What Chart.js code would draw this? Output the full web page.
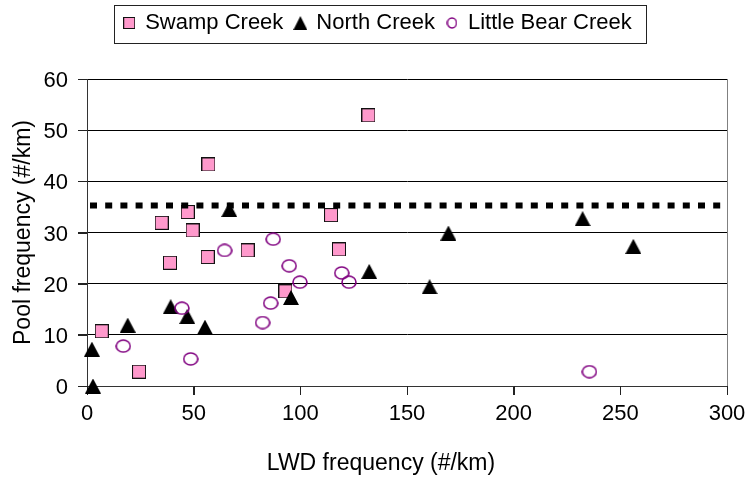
<!DOCTYPE html>
<html>
<head>
<meta charset="utf-8">
<script src="https://cdn.jsdelivr.net/npm/chart.js@4.4.1/dist/chart.umd.min.js"></script>
<style>
  html, body { margin: 0; padding: 0; background: #fff; }
</style>
</head>
<body>
<canvas id="chart" width="746" height="479"></canvas>
<script>
// series names (legend order)
const seriesNames = ['Swamp Creek', 'North Creek', 'Little Bear Creek'];

// Swamp Creek: LWD frequency vs pool frequency
const swampX = [6.9, 24.4, 35.0, 38.9, 47.2, 49.5, 56.9, 56.6, 75.3, 93.0, 114.4, 118.1, 131.9];
const swampY = [10.7, 2.8, 31.9, 24.1, 34.0, 30.4, 43.3, 25.2, 26.5, 18.5, 33.4, 26.7, 52.9];

// North Creek
const northX = [2.8, 2.3, 19.1, 39.2, 47.0, 55.3, 66.7, 95.6, 132.3, 160.6, 169.4, 232.3, 256.1];
const northY = [0.0, 7.2, 11.9, 15.5, 13.6, 11.5, 34.5, 17.3, 22.4, 19.4, 29.9, 32.7, 27.3];

// Little Bear Creek
const bearX = [17.0, 44.5, 48.6, 64.5, 87.3, 86.1, 82.3, 94.8, 99.8, 119.4, 122.8, 235.5];
const bearY = [7.8, 15.2, 5.3, 26.5, 28.7, 16.2, 12.4, 23.5, 20.3, 22.1, 20.3, 2.8];

// dotted reference level
const refLineX = [0, 300];
const refLineY = [35.3, 35.3];

const xTicks = [0, 50, 100, 150, 200, 250, 300];
const yTicks = [0, 10, 20, 30, 40, 50, 60];
const xTitle = 'LWD frequency (#/km)';
const yTitle = 'Pool frequency (#/km)';

const pts = (xs, ys) => xs.map((x, i) => ({ x, y: ys[i] }));

function marker(kind, w, h, lw) {
  const c = document.createElement('canvas');
  c.width = w; c.height = h;
  const g = c.getContext('2d');
  if (kind === 'square') {
    g.fillStyle = '#ff99cc';
    g.fillRect(0, 0, w, h);
    g.strokeStyle = '#111';
    g.lineWidth = 1;
    g.strokeRect(0.5, 0.5, w - 1, h - 1);
  } else if (kind === 'triangle') {
    g.fillStyle = '#000';
    g.beginPath();
    g.moveTo(w / 2, 0); g.lineTo(w, h); g.lineTo(0, h);
    g.closePath(); g.fill();
  } else {
    g.strokeStyle = '#800080';
    g.lineWidth = lw || 1.5;
    g.beginPath();
    g.ellipse(w / 2, h / 2, w / 2 - 1, h / 2 - 1, 0, 0, Math.PI * 2);
    g.stroke();
  }
  return c;
}

const plotMarks = [marker('square', 14, 14), marker('triangle', 16, 15), marker('circle', 16, 14, 1.6)];
const legendMarks = [marker('square', 12, 12), marker('triangle', 14, 14), marker('circle', 11, 12, 1.5)];

const FONT = { family: '"Liberation Sans", Arial, sans-serif', size: 22 };
const TITLE_FONT = { family: '"Liberation Sans", Arial, sans-serif', size: 23 };

const px = v => Math.round(v) + 0.5;

const frame = {
  id: 'frame',
  beforeDatasetsDraw(chart) {
    const { ctx, chartArea: a, scales } = chart;
    ctx.save();
    ctx.strokeStyle = '#808080';
    ctx.lineWidth = 1;
    ctx.beginPath();
    ctx.moveTo(px(a.right), a.top);
    ctx.lineTo(px(a.right), a.bottom);
    ctx.stroke();
    // outside tick marks
    ctx.strokeStyle = '#222';
    ctx.beginPath();
    xTicks.forEach(v => {
      const x = px(scales.x.getPixelForValue(v));
      ctx.moveTo(x, a.bottom); ctx.lineTo(x, a.bottom + 9);
    });
    yTicks.forEach(v => {
      const y = px(scales.y.getPixelForValue(v));
      ctx.moveTo(a.left - 9, y); ctx.lineTo(a.left, y);
    });
    ctx.stroke();
    ctx.restore();
  },
  afterDraw(chart) {
    const { ctx } = chart;
    // x axis title, Excel puts it left of the plot centre
    ctx.save();
    ctx.font = '23px "Liberation Sans", Arial, sans-serif';
    ctx.fillStyle = '#000';
    ctx.textAlign = 'center';
    ctx.textBaseline = 'middle';
    ctx.fillText(xTitle, 381, 464);
    ctx.restore();

    const hb = chart.legend.legendHitBoxes;
    if (!hb || !hb.length) return;
    const last = hb[hb.length - 1];
    const l = px(hb[0].left - 10);
    const r = px(last.left + last.width + 14);
    const mid = hb[0].top + hb[0].height / 2;
    const t = px(mid - 18.5);
    const b = px(mid + 19.5);
    ctx.save();
    ctx.strokeStyle = '#222';
    ctx.lineWidth = 1;
    ctx.strokeRect(l, t, r - l, b - t);
    ctx.restore();
  }
};

new Chart(document.getElementById('chart'), {
  type: 'scatter',
  data: {
    datasets: [
      { label: 'ref', data: pts(refLineX, refLineY), showLine: true, pointRadius: 0, borderColor: '#000',
        borderWidth: 6, borderDash: [7, 8.2], borderDashOffset: 12.2, borderCapStyle: 'butt', order: 0, clip: false },
      { label: seriesNames[2], data: pts(bearX, bearY), pointStyle: plotMarks[2], order: 1, clip: false },
      { label: seriesNames[1], data: pts(northX, northY), pointStyle: plotMarks[1], order: 2, clip: false },
      { label: seriesNames[0], data: pts(swampX, swampY), pointStyle: plotMarks[0], order: 3, clip: false }
    ]
  },
  options: {
    responsive: false,
    animation: false,
    events: [],
    layout: { padding: { left: 10, right: 0, top: 0, bottom: 0 } },
    plugins: {
      tooltip: { enabled: false },
      // empty spacer between legend and plot
      title: { display: true, text: '', weight: 500, font: { size: 10, lineHeight: 1 }, padding: { top: 25, bottom: 0 } },
      legend: {
        position: 'top',
        labels: {
          usePointStyle: true,
          boxWidth: 10,
          padding: 12,
          color: '#000',
          font: FONT,
          generateLabels: () => seriesNames.map((name, i) => ({
            text: name, pointStyle: legendMarks[i], fillStyle: '#fff', strokeStyle: '#000',
            lineWidth: 0, hidden: false, datasetIndex: 3 - i
          }))
        }
      }
    },
    scales: {
      x: {
        type: 'linear', min: 0, max: 300,
        afterBuildTicks: s => { s.ticks = xTicks.map(v => ({ value: v })); },
        afterFit: s => { s.height = 93; s.paddingLeft = 0; s.paddingRight = 19; },
        grid: { drawOnChartArea: false, drawTicks: true, tickLength: 9, color: '#000', tickColor: '#222', tickWidth: 1 },
        border: { color: '#333', width: 1 },
        ticks: { color: '#000', font: FONT, padding: 6, maxRotation: 0 },
        title: { display: false }
      },
      y: {
        type: 'linear', min: 0, max: 60,
        afterBuildTicks: s => { s.ticks = yTicks.map(v => ({ value: v })); },
        afterFit: s => { s.width = 77; },
        grid: { color: '#000', drawTicks: true, tickLength: 9, tickColor: '#222', tickWidth: 1 },
        border: { color: '#333', width: 1 },
        ticks: { color: '#000', font: FONT, padding: 10, labelOffset: 2 },
        title: { display: true, text: yTitle, color: '#000', font: TITLE_FONT, padding: { top: 0, bottom: 0 } }
      }
    }
  },
  plugins: [frame]
});
</script>
</body>
</html>
